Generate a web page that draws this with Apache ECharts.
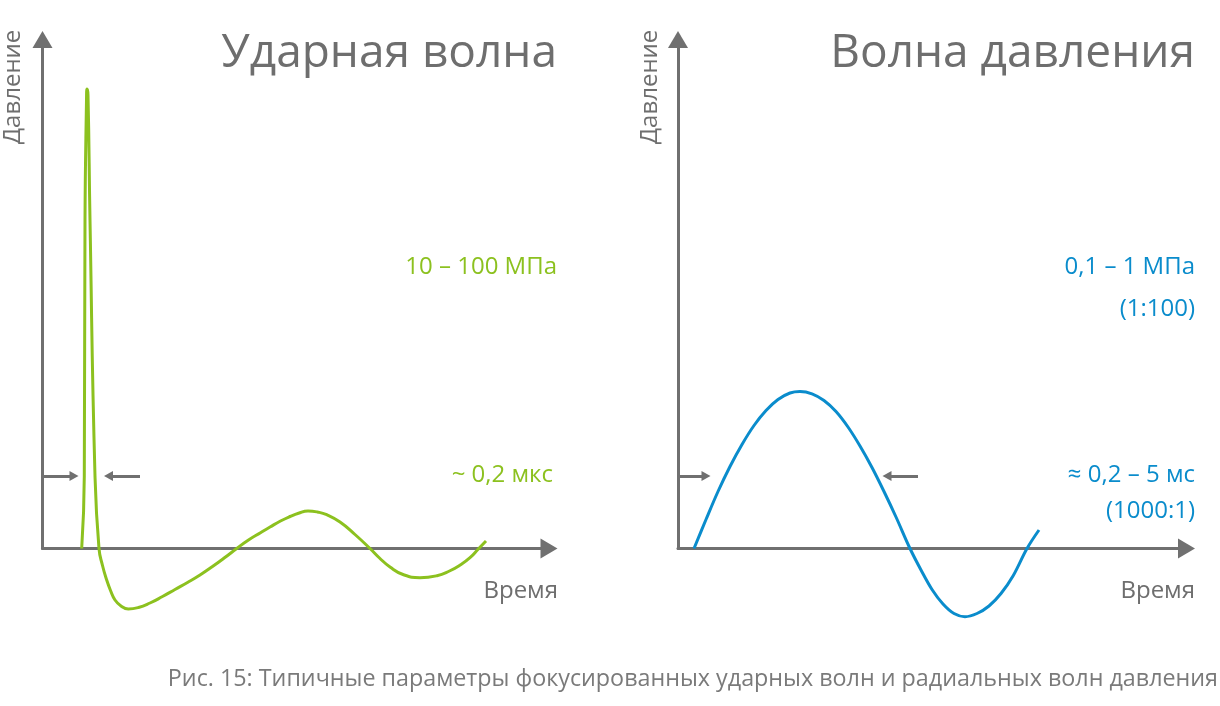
<!DOCTYPE html>
<html>
<head>
<meta charset="utf-8">
<script src="https://cdn.jsdelivr.net/npm/echarts@6/dist/echarts.min.js"></script>
<style>
  html, body { margin: 0; padding: 0; background: #fff; }
  #chart { width: 1220px; height: 706px; }
</style>
</head>
<body>
<div id="chart"></div>
<script>
// shock wave: [time, pressure] in arbitrary units
const shockWave = [
  [39.2, 0], [41.8, 72.5], [42.5, 328.5], [44, 448.5], [44.5, 459.5], [45.5, 453.5],
  [47.5, 328.5], [52.5, 72.5], [56.5, 0], [60, -17], [64.2, -31.5], [68, -42],
  [72.5, -51.5], [78.5, -57.5], [85.8, -60.5], [96, -59], [107.5, -54.5], [120, -48],
  [132.5, -41], [145, -34], [157.5, -26.5], [170, -18], [182, -9.3], [194.2, 0],
  [206, 8.5], [218, 15.8], [227.5, 21.5], [238, 27.5], [247.5, 32], [256, 35.3],
  [265.5, 37.5], [275, 36.5], [284.2, 33.8], [297.5, 26.5], [312.5, 14], [327.5, 0],
  [337, -9.5], [347.5, -18.5], [360.5, -26], [377.5, -29.2], [394.5, -27.2], [407, -22.5],
  [417, -17], [427.5, -9.2], [435.8, -0.5], [443.5, 7.5]
]
// pressure wave
const pressureWave = [
  [16, 0], [28, 29], [40, 57], [52, 82], [64, 104], [76, 123], [88, 138], [100, 149],
  [112, 155.5], [122, 157], [134, 154.7], [146, 148], [158, 137], [170, 121.5],
  [182, 102.5], [194, 81], [206, 57], [218, 31.5], [232, 0], [243, -21.5], [254, -41],
  [265, -55.5], [276, -65], [287, -68.2], [299, -65], [311, -57.5], [323, -45],
  [335, -27.5], [349, 0], [361, 18.5]
]
// pulse width markers [from, to] at level
const shockMarks = [[0, 31.5], [97.5, 66]]
const pressureMarks = [[0, 28], [240, 209]]
const markLevel = 72.5

const panelTitles = ['Ударная волна', 'Волна давления']
const shockLabels = ['10 – 100 МПа', '~ 0,2 мкс']
const pressureLabels = ['0,1 – 1 МПа', '(1:100)', '≈ 0,2 – 5 мс', '(1000:1)']
const yName = 'Давление'
const xName = 'Время'
const caption = 'Рис. 15: Типичные параметры фокусированных ударных волн и радиальных волн давления'

const GREEN = '#8cc11f'
const BLUE = '#0a8ccc'
const GRAY = '#6e6e6e'
const FONT = '"Open Sans", sans-serif'

const myChart = echarts.init(document.getElementById('chart'))

const axisBase = (gridIndex, max) => ({
  type: 'value',
  gridIndex,
  min: 0,
  max,
  axisLine: {
    show: true,
    onZero: false,
    lineStyle: { color: '#707070', width: 3 },
    symbol: ['none', 'triangle'],
    symbolSize: [20, 17],
  },
  axisTick: { show: false },
  axisLabel: { show: false },
  splitLine: { show: false },
})

const makeMarks = (marks) => ({
  silent: true,
  symbol: ['none', 'triangle'],
  symbolSize: [10, 9],
  label: { show: false },
  lineStyle: { color: '#707070', width: 3, type: 'solid' },
  emphasis: { disabled: true },
  data: marks.map(m => [{ coord: [m[0], markLevel] }, { coord: [m[1], markLevel] }]),
})

const txt = (text, opt, style) => ({
  type: 'text',
  ...opt,
  style: { text, fill: GRAY, font: '24px ' + FONT, ...style },
})

myChart.setOption({
  animation: false,
  grid: [
    { left: 42.5, top: 39.5, width: 506.5, height: 509 },
    { left: 678, top: 39.5, width: 508.5, height: 509 },
  ],
  xAxis: [axisBase(0, 506.5), axisBase(1, 508.5)],
  yAxis: [axisBase(0, 509), axisBase(1, 509)],
  series: [
    {
      type: 'line',
      xAxisIndex: 0,
      yAxisIndex: 0,
      data: shockWave,
      clip: false,
      smooth: 0.5,
      symbol: 'none',
      lineStyle: { color: GREEN, width: 3 },
      markLine: makeMarks(shockMarks),
    },
    {
      type: 'line',
      xAxisIndex: 1,
      yAxisIndex: 1,
      data: pressureWave,
      clip: false,
      smooth: 0.35,
      symbol: 'none',
      lineStyle: { color: BLUE, width: 3 },
      markLine: makeMarks(pressureMarks),
    },
  ],
  graphic: [
    txt(panelTitles[0], { right: 1220 - 557, top: 31 }, { font: '46px ' + FONT }),
    txt(panelTitles[1], { right: 1220 - 1195, top: 31 }, { font: '46px ' + FONT }),
    txt(shockLabels[0], { right: 1220 - 557, top: 255 }, { fill: GREEN }),
    txt(shockLabels[1], { right: 1220 - 553, top: 463 }, { fill: GREEN }),
    txt(pressureLabels[0], { right: 1220 - 1195, top: 255 }, { fill: BLUE }),
    txt(pressureLabels[1], { right: 1220 - 1195, top: 297 }, { fill: BLUE }),
    txt(pressureLabels[2], { right: 1220 - 1195, top: 463 }, { fill: BLUE }),
    txt(pressureLabels[3], { right: 1220 - 1195, top: 499 }, { fill: BLUE }),
    txt(xName, { right: 1220 - 558, top: 579 }),
    txt(xName, { right: 1220 - 1195, top: 579 }),
    txt(yName, { x: 13, y: 87, rotation: Math.PI / 2 }, { align: 'center', verticalAlign: 'middle' }),
    txt(yName, { x: 650, y: 87, rotation: Math.PI / 2 }, { align: 'center', verticalAlign: 'middle' }),
    txt(caption, { right: 2, top: 668 }, { fill: '#7a7a7a', font: '23.3px ' + FONT }),
  ],
})
</script>
</body>
</html>
